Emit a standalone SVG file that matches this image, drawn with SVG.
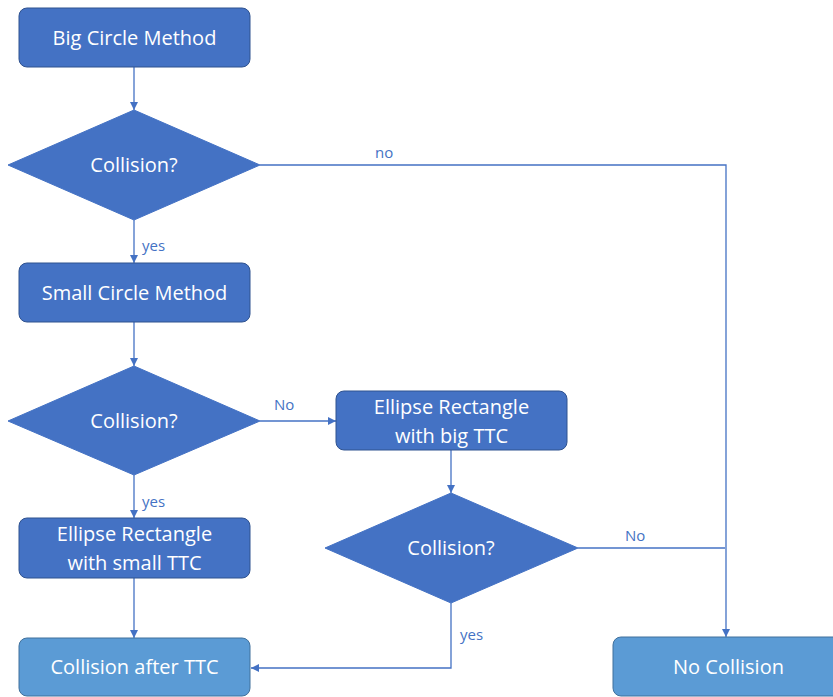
<svg xmlns="http://www.w3.org/2000/svg" width="833" height="697" viewBox="0 0 833 697">
  <defs>
    <marker id="arrow" viewBox="0 0 10 10" refX="10" refY="5" markerWidth="8" markerHeight="8" markerUnits="userSpaceOnUse" orient="auto">
      <path d="M0,0 L10,5 L0,10 z" fill="#4472C4"/>
    </marker>
  </defs>
  <style>
    .proc { fill: #4472C4; stroke: #2F528F; stroke-width: 1; }
    .term { fill: #5B9BD5; stroke: #41719C; stroke-width: 1; }
    .dec { fill: #4472C4; stroke: #4472C4; stroke-width: 1; }
    .txt { font-family: "Open Sans", "Liberation Sans", sans-serif; font-size: 20px; fill: #FFFFFF; text-anchor: middle; }
    .lbl { font-family: "Open Sans", "Liberation Sans", sans-serif; font-size: 15px; fill: #4472C4; }
    .edge { fill: none; stroke: #4472C4; stroke-width: 1.3; }
  </style>
  <rect width="833" height="697" fill="#FFFFFF"/>

  <g id="connectors">
    <path class="edge" d="M134,67 V110" marker-end="url(#arrow)"/>
    <path class="edge" d="M134,220 V263" marker-end="url(#arrow)"/>
    <path class="edge" d="M134,322 V366" marker-end="url(#arrow)"/>
    <path class="edge" d="M134,475 V518" marker-end="url(#arrow)"/>
    <path class="edge" d="M134,578 V638" marker-end="url(#arrow)"/>
    <path class="edge" d="M260,421 H336" marker-end="url(#arrow)"/>
    <path class="edge" d="M451,450 V493" marker-end="url(#arrow)"/>
    <path class="edge" d="M260,165 H726 V637" marker-end="url(#arrow)"/>
    <path class="edge" d="M578,548 H725"/>
    <path class="edge" d="M451,603 V668 H251" marker-end="url(#arrow)"/>
    <text class="lbl" x="375" y="158">no</text>
    <text class="lbl" x="142" y="251">yes</text>
    <text class="lbl" x="274" y="410">No</text>
    <text class="lbl" x="142" y="507">yes</text>
    <text class="lbl" x="625" y="541">No</text>
    <text class="lbl" x="460" y="640">yes</text>
  </g>

  <g id="big-circle">
    <rect class="proc" x="19" y="8" width="231" height="59" rx="8"/>
    <text class="txt" x="134.5" y="45">Big Circle Method</text>
  </g>
  <g id="collision-1">
    <polygon class="dec" points="134,110 260,165 134,220 8,165"/>
    <text class="txt" x="134" y="172">Collision?</text>
  </g>
  <g id="small-circle">
    <rect class="proc" x="19" y="263" width="231" height="59" rx="8"/>
    <text class="txt" x="134.5" y="300">Small Circle Method</text>
  </g>
  <g id="collision-2">
    <polygon class="dec" points="134,366 260,421 134,475 8,421"/>
    <text class="txt" x="134" y="428">Collision?</text>
  </g>
  <g id="ellipse-small">
    <rect class="proc" x="19" y="518" width="231" height="60" rx="8"/>
    <text class="txt" x="134.5" y="541">Ellipse Rectangle</text>
    <text class="txt" x="134.5" y="570">with small TTC</text>
  </g>
  <g id="ellipse-big">
    <rect class="proc" x="336" y="391" width="231" height="59" rx="8"/>
    <text class="txt" x="451.5" y="414">Ellipse Rectangle</text>
    <text class="txt" x="451.5" y="443">with big TTC</text>
  </g>
  <g id="collision-3">
    <polygon class="dec" points="451,493 578,548 451,603 325,548"/>
    <text class="txt" x="451" y="555">Collision?</text>
  </g>
  <g id="collision-after">
    <rect class="term" x="19" y="638" width="231" height="58" rx="8"/>
    <text class="txt" x="134.5" y="674">Collision after TTC</text>
  </g>
  <g id="no-collision">
    <rect class="term" x="613" y="637" width="231" height="59" rx="8"/>
    <text class="txt" x="728.5" y="674">No Collision</text>
  </g>
</svg>
